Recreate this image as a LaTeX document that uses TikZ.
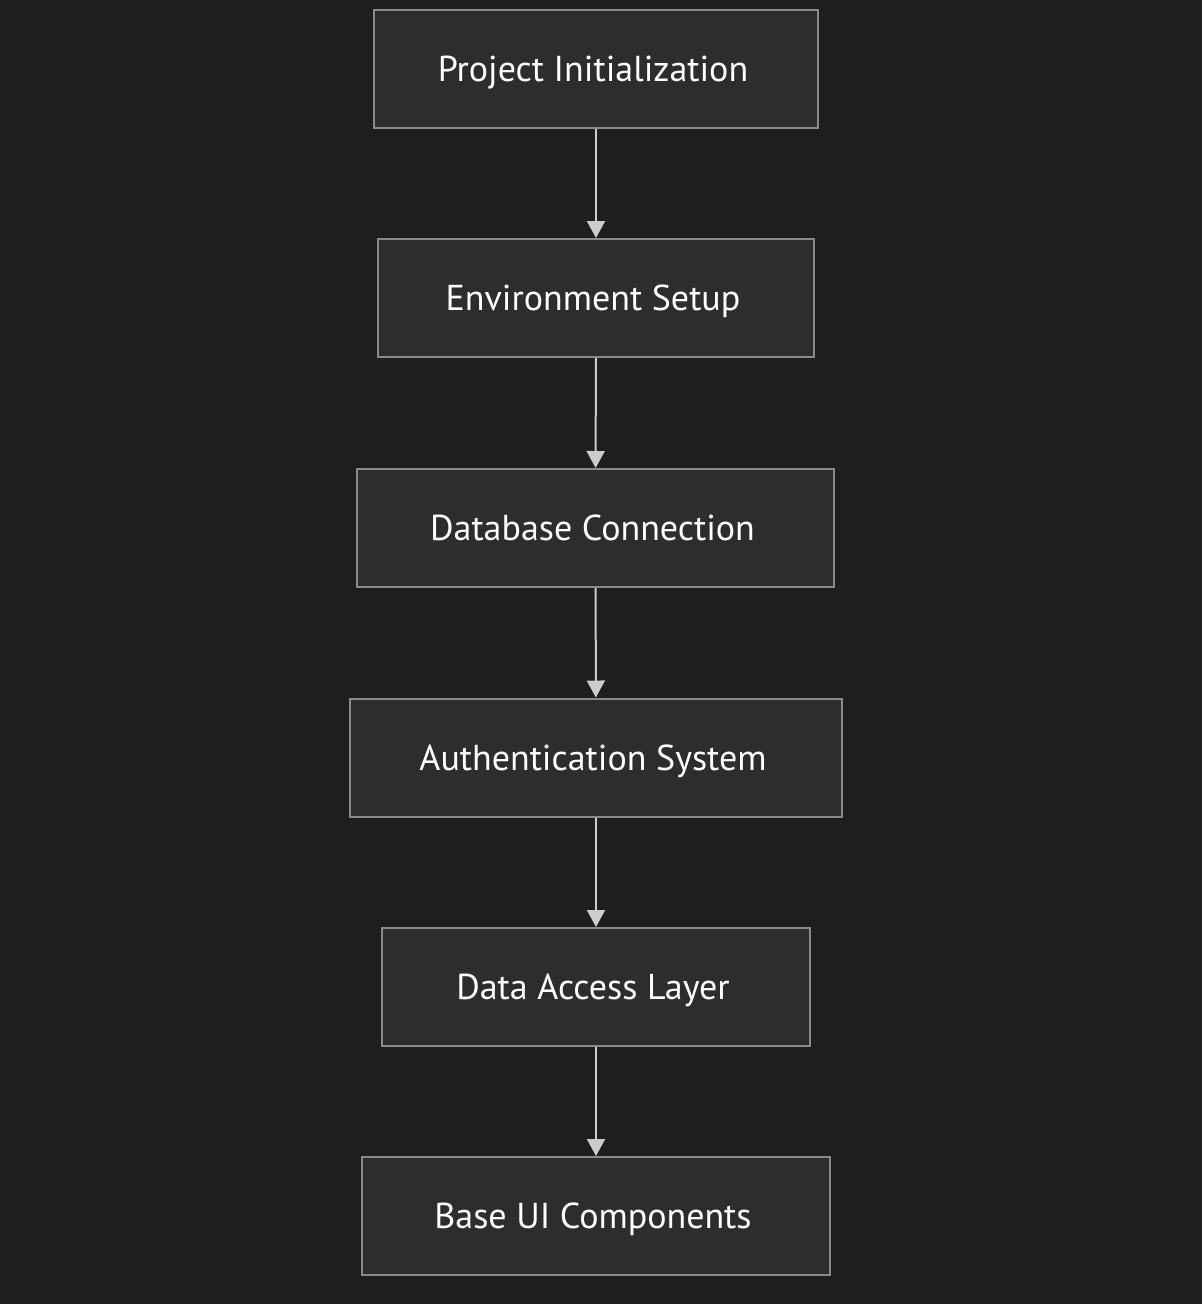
\documentclass[tikz,border=0pt]{standalone}
\usepackage{fontspec}
\setmainfont{PT Sans}
\usetikzlibrary{arrows.meta}
\definecolor{bg}{HTML}{1E1E1E}
\definecolor{boxfill}{HTML}{2D2D2D}
\definecolor{boxline}{HTML}{8A8A8A}
\definecolor{arrowc}{HTML}{CCCCCC}
\tikzset{
  stepbox/.style={draw=boxline, fill=boxfill, line width=2pt, inner sep=0pt, text=white,
    font=\fontsize{36}{42}\selectfont, text height=25pt, text depth=0pt,
    execute at end node={\kern6pt}},
  flow/.style={draw=arrowc, line width=2pt, -{Triangle[length=17pt,width=18pt]}}
}
\begin{document}
\begin{tikzpicture}[x=1pt,y=-1pt]
\fill[bg] (0,0) rectangle (1202,1304);
\useasboundingbox (0,0) rectangle (1202,1304);
\node[stepbox, minimum width=444pt, minimum height=118pt] (a) at (596,69) {Project Initialization};
\node[stepbox, minimum width=436pt, minimum height=118pt] (b) at (596,298) {Environment Setup};
\node[stepbox, minimum width=477pt, minimum height=118pt] (c) at (595.5,528) {Database Connection};
\node[stepbox, minimum width=492pt, minimum height=118pt] (d) at (596,757.5) {Authentication System};
\node[stepbox, minimum width=428pt, minimum height=118pt] (e) at (596,987) {Data Access Layer};
\node[stepbox, minimum width=468pt, minimum height=118pt] (f) at (596,1216) {Base UI Components};
\draw[flow] (a) -- (b);
\draw[flow] (b) -- (c);
\draw[flow] (c) -- (d);
\draw[flow] (d) -- (e);
\draw[flow] (e) -- (f);
\end{tikzpicture}
\end{document}
